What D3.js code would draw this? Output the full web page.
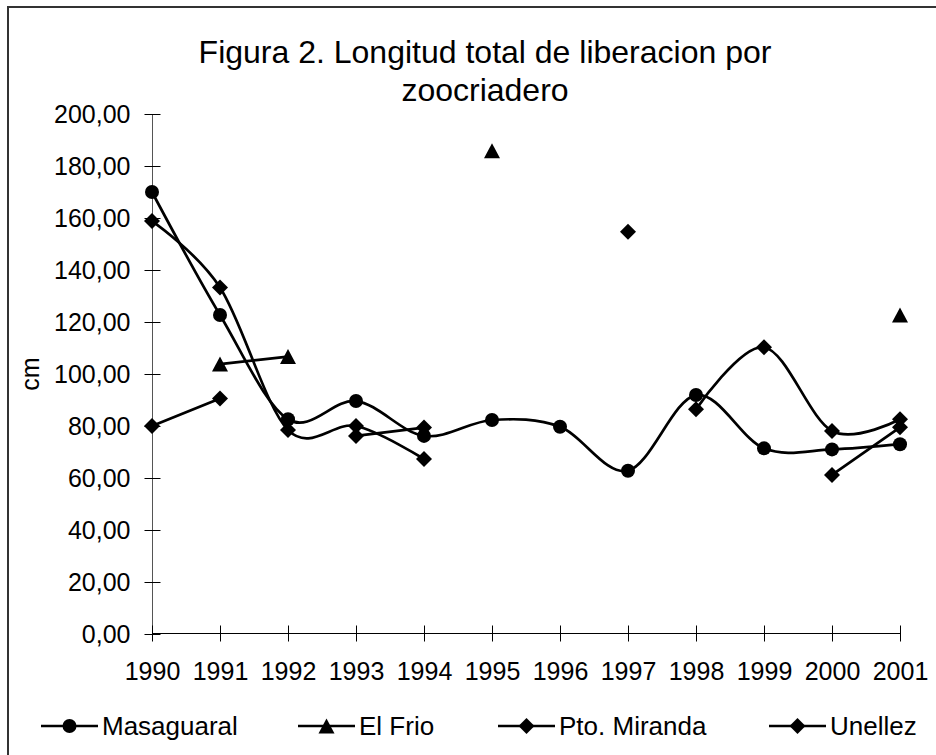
<!DOCTYPE html>
<html lang="es">
	<head>
		<meta charset="utf-8">
		<title>Figura 2</title>
		<script src="https://cdn.jsdelivr.net/npm/d3@7"></script>
		<style type="text/css">
			body {
				margin: 0;
				background: #fff;
			}
			text {
				font-family: "Liberation Sans", Arial, sans-serif;
				fill: #000;
			}
		</style>
	</head>
	<body>
		<script type="text/javascript">
			// datos (null = sin dato)
			var years = ["1990", "1991", "1992", "1993", "1994", "1995", "1996", "1997", "1998", "1999", "2000", "2001"];
			var masaguaral = [170.0, 122.7, 82.6, 89.6, 76.2, 82.3, 79.7, 62.8, 91.9, 71.4, 71.0, 73.0];
			var elFrio     = [null, 103.8, 106.7, null, null, 185.9, null, null, null, null, null, 122.7];
			var ptoMiranda = [80.0, 90.6, null, 76.2, 79.4, null, null, 154.7, null, null, 61.2, 79.5];
			var unellez    = [158.8, 133.3, 78.5, 80.0, 67.3, null, null, null, 86.4, 110.3, 78.1, 82.6];
			var yTicks = [0, 20, 40, 60, 80, 100, 120, 140, 160, 180, 200];
			var seriesNames = ["Masaguaral", "El Frio", "Pto. Miranda", "Unellez"];

			var w = 936;
			var h = 755;

			var svg = d3.select("body")
						.append("svg")
						.attr("width", w)
						.attr("height", h);

			svg.append("rect")
			   .attr("width", w)
			   .attr("height", h)
			   .attr("fill", "#fff");

			// marco del grafico
			svg.append("rect")
			   .attr("x", 8)
			   .attr("y", 7)
			   .attr("width", 960)
			   .attr("height", 780)
			   .attr("fill", "none")
			   .attr("stroke", "#333")
			   .attr("stroke-width", 2);

			var x = d3.scalePoint()
					  .domain(years)
					  .range([152, 900]);
			var y = d3.scaleLinear()
					  .domain([0, 200])
					  .range([634, 114]);

			var es = d3.formatLocale({decimal: ",", thousands: ".", grouping: [3], currency: ["", ""]});
			var fmt = es.format(".2f");

			// eje Y
			var yAxis = svg.append("g")
						   .attr("transform", "translate(152.5,0)")
						   .call(d3.axisLeft(y).tickValues(yTicks).tickSize(8).tickFormat(fmt));
			yAxis.select(".domain").attr("stroke", "#555").attr("d", "M0," + y(200) + "V" + y(0));
			yAxis.selectAll(".tick line").attr("x1", -8).attr("x2", 8).attr("stroke", "#000");
			yAxis.selectAll(".tick text")
				 .attr("x", -22)
				 .attr("dy", "0.35em")
				 .style("font-size", "25px")
				 .style("font-family", "'Liberation Sans', Arial, sans-serif")
				 .attr("fill", "#000");

			// eje X
			var xAxis = svg.append("g")
						   .attr("transform", "translate(0," + (y(0) - 0.5) + ")")
						   .call(d3.axisBottom(x).tickSize(8));
			xAxis.select(".domain").attr("stroke", "#000").attr("d", "M" + x(years[0]) + ",0H" + x(years[years.length - 1]));
			xAxis.selectAll(".tick line").attr("y1", -8).attr("y2", 8).attr("stroke", "#000");
			xAxis.selectAll(".tick text")
				 .attr("y", 46)
				 .attr("dy", 0)
				 .style("font-size", "25px")
				 .style("font-family", "'Liberation Sans', Arial, sans-serif")
				 .attr("fill", "#000");

			// titulo
			svg.append("text")
			   .attr("x", 485)
			   .attr("y", 63)
			   .attr("text-anchor", "middle")
			   .attr("font-size", "32px")
			   .text("Figura 2. Longitud total de liberacion por");
			svg.append("text")
			   .attr("x", 485)
			   .attr("y", 101)
			   .attr("text-anchor", "middle")
			   .attr("font-size", "32px")
			   .text("zoocriadero");

			svg.append("text")
			   .attr("transform", "translate(39,374) rotate(-90)")
			   .attr("text-anchor", "middle")
			   .attr("font-size", "25px")
			   .text("cm");

			// marcadores
			var markers = {
				circle: function(sel) { sel.append("circle").attr("r", 7); },
				triangle: function(sel) { sel.append("path").attr("d", "M0,-7.5L8,7.5L-8,7.5Z"); },
				diamond: function(sel) { sel.append("path").attr("d", "M0,-8L8,0L0,8L-8,0Z"); }
			};

			var series = [
				{ name: seriesNames[0], values: masaguaral, marker: "circle" },
				{ name: seriesNames[1], values: elFrio, marker: "triangle" },
				{ name: seriesNames[2], values: ptoMiranda, marker: "diamond" },
				{ name: seriesNames[3], values: unellez, marker: "diamond" }
			];

			var line = d3.line()
						 .defined(function(d) { return d.v != null; })
						 .x(function(d) { return x(d.year); })
						 .y(function(d) { return y(d.v); })
						 .curve(d3.curveCardinal.tension(0));

			series.forEach(function(s) {
				var pts = years.map(function(yr, i) { return { year: yr, v: s.values[i] }; });
				svg.append("path")
				   .datum(pts)
				   .attr("d", line)
				   .attr("fill", "none")
				   .attr("stroke", "#000")
				   .attr("stroke-width", 2.7);

				svg.selectAll(null)
				   .data(pts.filter(function(d) { return d.v != null; }))
				   .enter()
				   .append("g")
				   .attr("transform", function(d) { return "translate(" + x(d.year) + "," + y(d.v) + ")"; })
				   .attr("fill", "#000")
				   .call(markers[s.marker]);
			});

			// leyenda
			var legendX = [41, 298, 498, 769];
			series.forEach(function(s, i) {
				var g = svg.append("g")
						   .attr("transform", "translate(" + legendX[i] + ",726)");
				g.append("line")
				 .attr("x1", 0)
				 .attr("x2", 57)
				 .attr("stroke", "#000")
				 .attr("stroke-width", 2.7);
				g.append("g")
				 .attr("transform", "translate(28.5,0)")
				 .attr("fill", "#000")
				 .call(markers[s.marker]);
				g.append("text")
				 .attr("x", 61)
				 .attr("y", 9)
				 .attr("font-size", "26px")
				 .text(s.name);
			});
		</script>
	</body>
</html>
